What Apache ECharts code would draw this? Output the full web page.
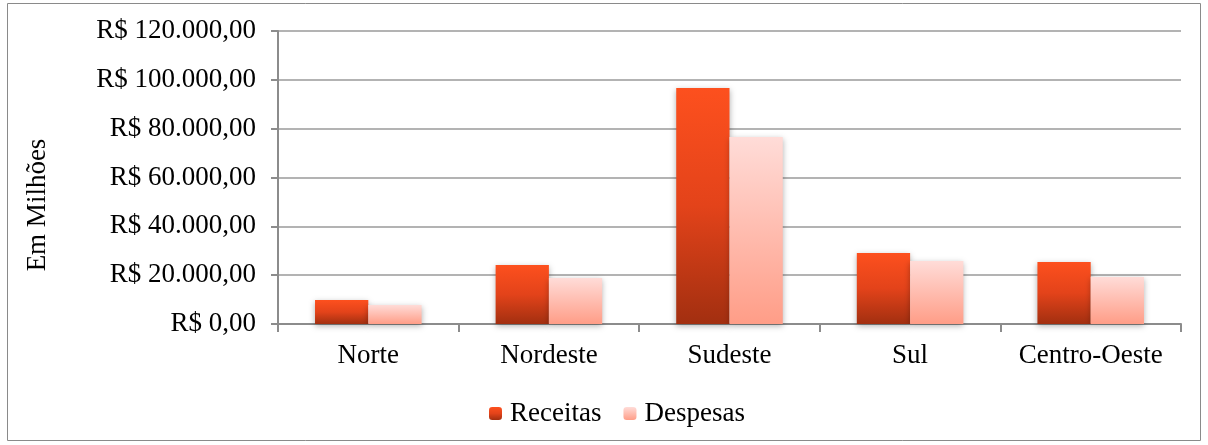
<!DOCTYPE html>
<html><head><meta charset="utf-8">
<script src="https://cdn.jsdelivr.net/npm/echarts@6/dist/echarts.min.js"></script>
<style>html,body{margin:0;padding:0;background:#fff}#c{width:1208px;height:445px}</style>
</head><body><div id="c"></div>
<script>
const categories = ['Norte', 'Nordeste', 'Sudeste', 'Sul', 'Centro-Oeste'];
const receitas = [9800, 24200, 96700, 29100, 25400];
const despesas = [7800, 18800, 76600, 25800, 19300];
const yTicks = [0, 20000, 40000, 60000, 80000, 100000, 120000];
const yAxisTitle = 'Em Milhões';

function fmt(v) {
  if (v === 0) return 'R$ 0,00';
  const s = String(v).replace(/\B(?=(\d{3})+(?!\d))/g, '.');
  return 'R$ ' + s + ',00';
}
const font = 'Liberation Serif';
const fs = 27;
const chart = echarts.init(document.getElementById('c'));
chart.setOption({
  animation: false,
  textStyle: { fontFamily: font },
  graphic: [{
    type: 'rect', shape: { x: 7.5, y: 3.5, width: 1193, height: 437 },
    style: { fill: 'none', stroke: '#8a8a8a', lineWidth: 1 }, z: -1
  }, {
    type: 'text', x: 38, y: 205, rotation: Math.PI / 2,
    style: { text: yAxisTitle, font: fs + 'px "Liberation Serif"', fill: '#000', align: 'center', verticalAlign: 'middle' }
  }],
  grid: { left: 278, right: 27, top: 31, bottom: 121 },
  legend: {
    bottom: 13, left: 484, itemWidth: 13, itemHeight: 13, itemGap: 22,
    textStyle: { fontFamily: font, fontSize: fs, color: '#000', padding: [0, 0, 0, 3] },
    data: ['Receitas', 'Despesas']
  },
  xAxis: {
    type: 'category', data: categories,
    axisLine: { lineStyle: { color: '#8c8c8c', width: 2 } },
    axisTick: { show: true, length: 8, lineStyle: { color: '#8c8c8c', width: 2 } },
    axisLabel: { fontFamily: font, fontSize: fs, color: '#000', margin: 18, interval: 0 }
  },
  yAxis: {
    type: 'value', min: 0, max: yTicks[yTicks.length - 1], interval: 20000,
    axisLine: { show: true, lineStyle: { color: '#8c8c8c', width: 2 } },
    axisTick: { show: true, length: 7, lineStyle: { color: '#8c8c8c', width: 2 } },
    axisLabel: { fontFamily: font, fontSize: fs, color: '#000', margin: 22, formatter: fmt },
    splitLine: { lineStyle: { color: '#b3b3b3', width: 2 } }
  },
  series: [
    {
      name: 'Receitas', type: 'bar', data: receitas, barGap: '0%', barCategoryGap: '41%',
      itemStyle: {
        color: new echarts.graphic.LinearGradient(0, 0, 0, 1, [
          { offset: 0, color: '#fd501e' }, { offset: 0.5, color: '#e3431a' }, { offset: 1, color: '#a22f10' }
        ]),
        shadowColor: 'rgba(0,0,0,0.3)', shadowBlur: 6, shadowOffsetY: 2
      }
    },
    {
      name: 'Despesas', type: 'bar', data: despesas,
      itemStyle: {
        color: new echarts.graphic.LinearGradient(0, 0, 0, 1, [
          { offset: 0, color: '#ffdcd8' }, { offset: 1, color: '#ff9d87' }
        ]),
        shadowColor: 'rgba(0,0,0,0.3)', shadowBlur: 6, shadowOffsetY: 2
      }
    }
  ]
});
</script></body></html>
